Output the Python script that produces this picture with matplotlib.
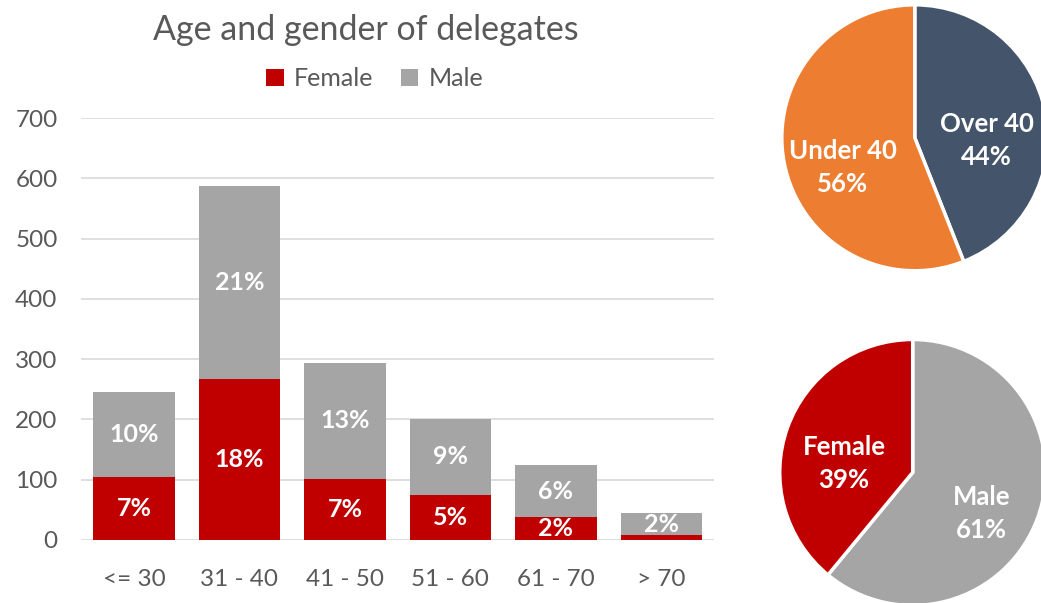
import numpy as np
import matplotlib
matplotlib.use("Agg")
import matplotlib.pyplot as plt

# ── Data ──────────────────────────────────────────────────────────────────────
age_groups   = ["<= 30", "31 - 40", "41 - 50", "51 - 60", "61 - 70", "> 70"]
female       = [104, 267, 101, 75, 38, 8]
male         = [142, 320, 193, 126, 86, 37]
female_pct   = ["7%", "18%", "7%", "5%", "2%", ""]
male_pct     = ["10%", "21%", "13%", "9%", "6%", "2%"]

age_split_names = ["Over 40", "Under 40"]
age_split_pct   = [44, 56]
gender_names    = ["Male", "Female"]
gender_pct      = [61, 39]

# ── Style ─────────────────────────────────────────────────────────────────────
RED, GREY = "#c00000", "#a5a5a5"
NAVY, ORANGE = "#44546a", "#ed7d31"
TXT = "#595959"
plt.rcParams["font.family"] = ["Lato", "DejaVu Sans"]
# ──────────────────────────────────────────────────────────────────────────────

fig = plt.figure(figsize=(10.41, 6.03), dpi=100)

# bar chart
ax = fig.add_axes([0.078, 0.1045, 0.608, 0.6995])
x = np.arange(len(age_groups))
b1 = ax.bar(x, female, width=0.77, color=RED, label="Female", zorder=3)
b2 = ax.bar(x, male, width=0.77, bottom=female, color=GREY, label="Male", zorder=3)
ax.bar_label(b1, labels=female_pct, label_type="center", color="white",
             fontsize=18, fontweight="bold")
ax.bar_label(b2, labels=male_pct, label_type="center", color="white",
             fontsize=18, fontweight="bold")

ax.set_xlim(-0.5, 5.5)
ax.set_ylim(0, 700)
ax.set_yticks(range(0, 701, 100))
ax.set_xticks(x, age_groups)
ax.tick_params(length=0, labelsize=17.5, labelcolor=TXT)
ax.tick_params(axis="y", pad=17)
ax.tick_params(axis="x", pad=21)
ax.grid(axis="y", color="#d9d9d9", linewidth=1.2, zorder=0)
for s in ax.spines.values():
    s.set_visible(False)

fig.text(0.351, 0.951, "Age and gender of delegates", ha="center", va="center",
         fontsize=24.5, color=TXT)
fig.legend(loc="center", bbox_to_anchor=(0.36, 0.869), ncol=2, frameon=False,
           fontsize=18, labelcolor=TXT, handlelength=0.7, handleheight=0.7,
           handletextpad=0.4, columnspacing=1.1)

# pies
def draw_pie(rect, vals, names, colors):
    pax = fig.add_axes(rect)
    labels = [f"{n}\n{v}%" for n, v in zip(names, vals)]
    wedges, texts = pax.pie(vals, labels=labels, colors=colors, startangle=90,
                            counterclock=False, labeldistance=0.55,
                            wedgeprops=dict(edgecolor="white", linewidth=2.5),
                            textprops=dict(color="white", fontsize=18.5,
                                           fontweight="bold", ha="center",
                                           va="center", linespacing=1.45))
    for w in wedges:
        w.set_clip_on(False)
    for t in texts:
        tx, ty = t.get_position()
        t.set_position((tx, ty - 0.12))
    pax.set_xlim(-1, 1)
    pax.set_ylim(-1, 1)
    pax.set_aspect("equal")
    return pax

draw_pie([0.751, 0.551, 0.2555, 0.441], age_split_pct, age_split_names, [NAVY, ORANGE])
draw_pie([0.749, -0.004, 0.2555, 0.441], gender_pct, gender_names, [GREY, RED])

fig.savefig("out.png", dpi=100)
